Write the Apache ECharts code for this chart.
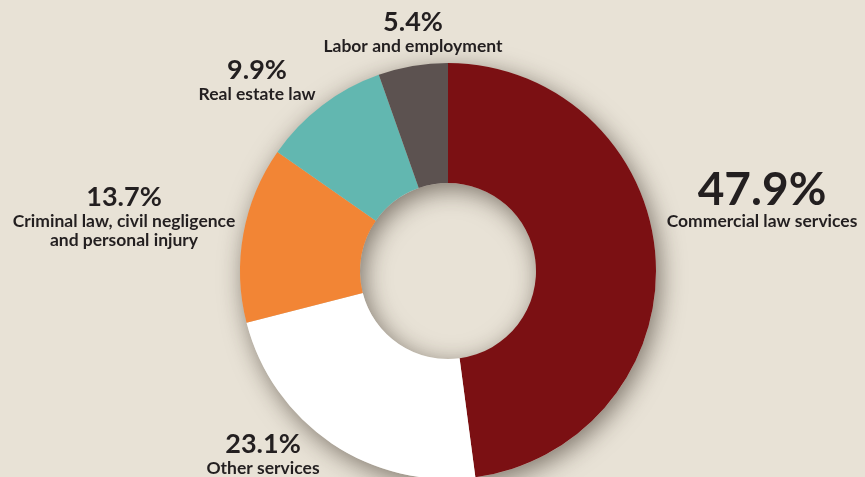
<!DOCTYPE html>
<html>
<head>
<meta charset="utf-8">
<script src="https://cdn.jsdelivr.net/npm/echarts@6/dist/echarts.min.js"></script>
<style>
  html, body { margin: 0; padding: 0; background: #E8E2D6; }
  #chart { width: 865px; height: 477px; }
</style>
</head>
<body>
<div id="chart"></div>
<script>
// Shares of legal services revenue, in percent
const categories = [
  'Commercial law services',
  'Other services',
  'Criminal law, civil negligence\nand personal injury',
  'Real estate law',
  'Labor and employment'
];
const shares = [47.9, 23.1, 13.7, 9.9, 5.4];
const sliceColors = ['#7B1013', '#FFFFFF', '#F28535', '#62B7B0', '#5C5250'];

// Label block anchors: horizontal centre and top edge, in pixels
const labelAnchors = [[762, 168], [263, 430], [124, 183], [257, 56], [413, 8]];

const bg = '#E8E2D6';
const ink = '#231F20';
const font = 'Lato';

const chart = echarts.init(document.getElementById('chart'), null, { renderer: 'canvas' });

const center = [448, 271];
const radius = [88, 208];

const data = categories.map((name, i) => ({
  name: name,
  value: shares[i],
  itemStyle: { color: sliceColors[i] },
  label: {
    formatter: (i === 0 ? '{big|' : '{pct|') + shares[i].toFixed(1) + '%}\n{name|' + name + '}'
  }
}));

chart.setOption({
  backgroundColor: bg,
  animation: false,
  series: [
    {
      // soft drop shadow behind the ring
      type: 'pie',
      silent: true,
      z: 1,
      center: center,
      radius: radius,
      label: { show: false },
      labelLine: { show: false },
      itemStyle: {
        color: '#CFC9BD',
        shadowBlur: 24,
        shadowColor: 'rgba(40,30,20,0.55)',
        shadowOffsetX: 4,
        shadowOffsetY: 6
      },
      data: [{ value: 1 }]
    },
    {
      type: 'pie',
      z: 2,
      center: center,
      radius: radius,
      startAngle: 90,
      clockwise: true,
      avoidLabelOverlap: false,
      itemStyle: { borderWidth: 0 },
      emphasis: { disabled: true },
      labelLine: { show: false },
      label: {
        show: true,
        position: 'outside',
        color: ink,
        fontFamily: font,
        fontWeight: 'bold',
        rich: {
          big: { fontFamily: font, fontWeight: 'bold', fontSize: 46, lineHeight: 44, color: ink, align: 'center' },
          pct: { fontFamily: font, fontWeight: 'bold', fontSize: 27, lineHeight: 29, color: ink, align: 'center' },
          name: { fontFamily: font, fontWeight: 'bold', fontSize: 17.5, lineHeight: 19, color: ink, align: 'center' }
        }
      },
      labelLayout: function (params) {
        const a = labelAnchors[params.dataIndex];
        return { x: a[0], y: a[1], align: 'center', verticalAlign: 'top', hideOverlap: false };
      },
      data: data
    }
  ]
});
</script>
</body>
</html>
